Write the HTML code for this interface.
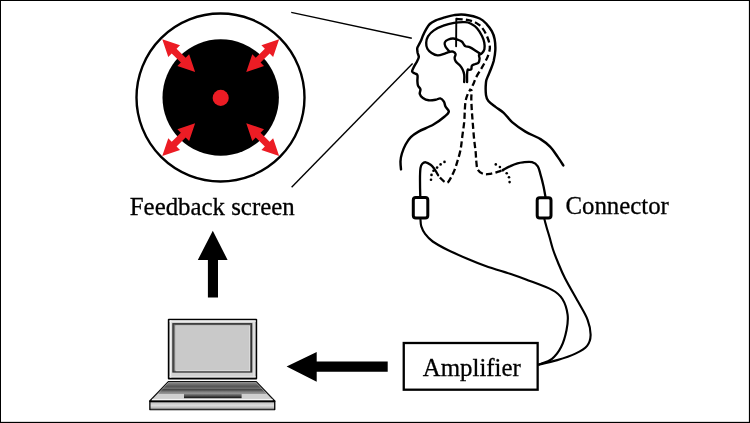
<!DOCTYPE html>
<html><head><meta charset="utf-8"><style>
html,body{margin:0;padding:0;background:#fff;}
body{width:750px;height:423px;overflow:hidden;position:relative;}
svg{position:absolute;left:0;top:0;will-change:transform;}
text{font-family:"Liberation Serif",serif;font-size:24.85px;fill:#000;stroke:#000;stroke-width:0.3px;}
</style></head><body>
<svg width="750" height="423" viewBox="0 0 750 423">
<rect x="0" y="0" width="750" height="423" fill="#fff"/><rect x="0" y="0" width="750" height="1" fill="#000"/><rect x="0" y="0" width="1" height="423" fill="#000"/><rect x="748.9" y="0" width="1.1" height="423" fill="#000"/><rect x="0" y="421.85" width="750" height="1.15" fill="#000"/>
<circle cx="220.5" cy="97.5" r="84" fill="#fff" stroke="#000" stroke-width="2.4"/>
<circle cx="220.7" cy="97.5" r="58.2" fill="#000"/>
<circle cx="220.7" cy="97.9" r="8.05" fill="#ec1c24"/>
<polygon fill="#ec1c24" points="246.26,123.16 264.01,129.17 260.55,132.64 269.67,141.76 273.13,138.29 279.14,156.04 261.39,150.03 264.86,146.57 255.74,137.45 252.27,140.91"/><polygon fill="#ec1c24" points="195.14,123.16 189.13,140.91 185.66,137.45 176.54,146.57 180.01,150.03 162.26,156.04 168.27,138.29 171.73,141.76 180.85,132.64 177.39,129.17"/><polygon fill="#ec1c24" points="195.14,72.04 177.39,66.03 180.85,62.56 171.73,53.44 168.27,56.91 162.26,39.16 180.01,45.17 176.54,48.63 185.66,57.75 189.13,54.29"/><polygon fill="#ec1c24" points="246.26,72.04 252.27,54.29 255.74,57.75 264.86,48.63 261.39,45.17 279.14,39.16 273.13,56.91 269.67,53.44 260.55,62.56 264.01,66.03"/>
<line x1="291.2" y1="12.4" x2="411.8" y2="38.2" stroke="#000" stroke-width="1.4"/>
<line x1="291.6" y1="187.2" x2="412.6" y2="63.5" stroke="#000" stroke-width="1.4"/>
<text transform="translate(129.8 215.4) scale(1 0.975)">Feedback screen</text>
<text transform="translate(565.4 214.1) scale(1 0.975)">Connector</text>
<text transform="translate(422.8 375.5) scale(1 0.975)">Amplifier</text>
<polygon points="212.8,230.7 227.6,260 218,260 218,297.4 207.9,297.4 207.9,260 197.8,260" fill="#000"/>
<polygon points="286.6,366.6 316.7,351.9 316.7,361.5 387.7,361.5 387.7,371.7 316.7,371.7 316.7,381.7" fill="#000"/>
<rect x="403.75" y="343" width="133.9" height="46.7" fill="none" stroke="#000" stroke-width="2.3"/>

<defs>
 <linearGradient id="kb" x1="0" y1="0" x2="0" y2="1">
  <stop offset="0" stop-color="#8a8a8a"/>
  <stop offset="0.12" stop-color="#7a7a7a"/>
  <stop offset="0.35" stop-color="#555"/>
  <stop offset="0.55" stop-color="#6e6e6e"/>
  <stop offset="0.66" stop-color="#3e3e3e"/>
  <stop offset="0.76" stop-color="#6a6a6a"/>
  <stop offset="0.9" stop-color="#8a8a8a"/>
  <stop offset="1" stop-color="#555"/>
 </linearGradient>
 <linearGradient id="ff" x1="0" y1="0" x2="0" y2="1">
  <stop offset="0" stop-color="#c4c4c4"/>
  <stop offset="0.45" stop-color="#dcdcdc"/>
  <stop offset="0.75" stop-color="#bdbdbd"/>
  <stop offset="1" stop-color="#5a5a5a"/>
 </linearGradient>
 <linearGradient id="tp" x1="0" y1="0" x2="0" y2="1">
  <stop offset="0" stop-color="#8a8a8a"/>
  <stop offset="0.45" stop-color="#555"/>
  <stop offset="1" stop-color="#111"/>
 </linearGradient>
</defs>
<g>
 <rect x="167.8" y="318.8" width="89.4" height="60.8" rx="1" fill="#000"/>
 <rect x="169.6" y="320.3" width="86.1" height="57.3" fill="#d2d2d2"/>
 <rect x="169.6" y="320.4" width="86.1" height="1.4" fill="#f2f2f2"/>
 <rect x="169.7" y="320.4" width="1.6" height="57.2" fill="#f2f2f2"/>
 <rect x="169.6" y="376.3" width="86.1" height="1" fill="#e6e6e6"/>
 <rect x="253.4" y="321" width="1.2" height="56" fill="#e6e6e6"/>
 <rect x="172.3" y="323.1" width="80" height="49.5" fill="#2e2e2e"/>
 <rect x="173.5" y="324.2" width="77.6" height="47.3" fill="#5e5e5e"/>
 <rect x="174.5" y="325" width="75.6" height="45.8" fill="#999"/>
 <rect x="175.6" y="325.6" width="74.4" height="45.6" fill="#e6e6e6"/>
 <rect x="175.6" y="325.6" width="73.8" height="44.9" fill="#c9c9c9"/>
 <polygon points="168.3,381.6 256.3,381.6 274.8,401 149.7,401" fill="#d0d0d0" stroke="#111" stroke-width="1.2" stroke-linejoin="round"/>
 <polygon points="168.9,382.3 255.6,382.3 266.3,393.6 158.3,393.6" fill="url(#kb)"/>
 <rect x="184" y="393.6" width="57.6" height="4.6" fill="url(#tp)"/>
 <rect x="152" y="398.9" width="120.5" height="1.5" fill="#f4f4f4"/>
 <rect x="149.2" y="400.6" width="126.2" height="9.6" rx="0.6" fill="#000"/>
 <rect x="150.5" y="402.3" width="123.6" height="7.2" fill="url(#ff)"/>
</g>

<g fill="none" stroke="#000" stroke-linecap="round" stroke-linejoin="round">
<path d="M401.0 169.4 C400.9 168.1 400.4 164.1 400.5 161.4 C400.6 158.8 401.0 156.3 401.9 153.5 C402.8 150.7 404.1 147.2 405.6 144.5 C407.1 141.8 408.7 139.3 410.8 137.2 C412.9 135.0 414.8 133.7 418.5 131.6 C422.2 129.5 428.7 127.3 433.1 124.8 C437.5 122.3 442.1 118.7 444.7 116.5 C447.3 114.3 448.7 113.2 448.8 111.6 C448.9 109.9 446.3 108.3 445.5 106.6 C444.7 104.9 444.8 103.0 443.9 101.6 C443.0 100.2 441.7 98.7 440.3 98.4 C438.9 98.1 437.6 99.5 435.7 99.8 C433.8 100.1 430.7 100.6 428.6 100.3 C426.5 100.0 424.4 99.0 422.9 98.0 C421.4 97.0 420.2 95.5 419.8 94.0 C419.4 92.5 420.7 90.7 420.4 89.3 C420.1 87.9 418.5 87.1 418.0 85.7 C417.5 84.3 417.5 82.8 417.4 81.0 C417.3 79.2 417.9 76.4 417.4 75.1 C416.9 73.8 415.4 73.9 414.5 73.3 C413.6 72.7 412.2 72.5 412.1 71.5 C412.0 70.5 412.8 69.2 413.6 67.5 C414.4 65.8 416.2 63.0 417.1 61.2 C418.0 59.5 418.7 58.4 418.8 57.0 C418.9 55.6 417.9 54.2 417.6 52.7 C417.4 51.2 417.0 49.4 417.3 48.0 C417.6 46.6 418.5 45.5 419.2 44.2 C419.9 42.9 420.7 41.4 421.3 40.0 C421.9 38.6 422.2 37.4 423.0 35.6 C423.8 33.8 425.1 31.1 426.2 29.2 C427.3 27.3 428.2 25.5 429.8 24.0 C431.4 22.5 433.3 21.5 435.8 20.4 C438.3 19.3 441.6 18.3 444.6 17.4 C447.6 16.5 450.6 15.5 454.0 15.1 C457.4 14.7 460.7 14.2 465.0 14.8 C469.3 15.4 476.1 16.9 479.7 18.5 C483.3 20.1 484.8 22.2 486.8 24.3 C488.8 26.4 490.5 28.8 491.8 31.2 C493.1 33.6 494.0 35.8 494.6 39.0 C495.2 42.2 495.5 46.8 495.3 50.5 C495.1 54.2 494.4 57.9 493.7 61.0 C492.9 64.1 491.8 66.7 490.8 69.3 C489.8 71.9 488.6 74.3 487.8 76.4 C487.0 78.5 486.3 79.0 486.0 82.1 C485.7 85.2 485.6 91.9 486.0 95.1 C486.4 98.2 486.8 99.0 488.4 101.0 C490.0 103.0 492.9 104.9 495.5 106.9 C498.1 108.9 500.9 110.3 503.7 112.8 C506.5 115.3 508.5 119.0 512.1 122.1 C515.7 125.2 520.7 128.8 525.4 131.6 C530.1 134.4 536.4 136.6 540.5 139.1 C544.6 141.6 547.1 143.7 550.0 146.7 C552.9 149.7 555.5 153.8 557.7 156.9 C559.9 160.0 562.4 164.0 563.3 165.4" stroke-width="2.45"/>
<path d="M464.2 82.0 C464.2 80.8 464.5 76.6 464.2 74.5 C463.9 72.4 463.3 71.0 462.6 69.5 C461.9 68.0 460.9 66.6 459.8 65.3 C458.7 64.0 456.7 62.8 455.8 61.5 C454.9 60.2 454.6 59.0 454.6 57.8 C454.6 56.5 455.9 55.0 455.6 54.0 C455.3 53.0 454.0 52.0 453.0 51.6 C452.0 51.2 451.0 51.6 449.6 51.9 C448.2 52.2 446.8 53.0 444.8 53.6 C442.8 54.2 439.9 55.5 437.7 55.4 C435.5 55.3 433.3 54.1 431.6 53.0 C429.9 51.9 428.3 50.4 427.4 48.7 C426.5 47.0 426.1 44.9 426.2 42.8 C426.3 40.7 426.7 38.4 428.0 36.3 C429.3 34.2 431.3 32.2 433.9 30.4 C436.5 28.6 440.0 26.9 443.4 25.7 C446.8 24.4 450.4 23.5 454.0 22.9 C457.6 22.3 462.2 22.1 465.0 22.2 C467.8 22.3 468.5 22.5 470.5 23.5 C472.5 24.5 475.1 26.1 477.0 28.2 C478.9 30.3 480.8 33.6 482.0 36.0 C483.2 38.4 483.9 40.6 484.3 42.8 C484.7 45.0 484.8 47.5 484.4 49.2 C484.0 51.0 482.8 52.3 481.9 53.3 C481.0 54.3 479.4 54.2 479.0 55.1 C478.6 56.0 479.7 57.3 479.6 58.6 C479.5 59.9 479.1 61.9 478.4 62.8 C477.7 63.7 476.5 63.5 475.4 64.0 C474.3 64.5 472.6 64.8 471.9 65.7 C471.2 66.6 471.8 68.6 471.3 69.3 C470.8 70.0 469.5 69.9 468.9 69.9 C468.3 70.0 468.0 68.9 467.7 69.6 C467.4 70.3 467.2 71.9 467.1 74.0 C467.0 76.1 467.1 80.7 467.1 82.0" stroke-width="2.35"/>
<path d="M449.6 51.9 C448.9 51.0 446.2 48.1 445.4 46.5 C444.6 44.9 444.3 43.6 444.8 42.4 C445.3 41.2 447.0 40.1 448.4 39.5 C449.8 38.9 451.4 38.4 453.1 38.5 C454.8 38.6 457.0 39.5 458.5 40.0 C460.0 40.5 461.1 41.1 462.0 41.8 C462.9 42.5 463.1 43.5 463.7 44.2 C464.3 45.0 464.4 45.8 465.5 46.3 C466.6 46.8 468.4 46.6 470.1 47.4 C471.9 48.2 474.3 49.9 476.0 51.0 C477.7 52.1 479.8 53.5 480.5 54.0" stroke-width="2.35"/>
<line x1="456.3" y1="18.8" x2="456.1" y2="46.2" stroke-width="1.9"/>
<path d="M456.4 19.0 C457.4 19.1 460.3 19.1 462.3 19.3 C464.3 19.5 466.4 19.8 468.4 20.2 C470.3 20.6 472.1 21.0 474.0 21.8 C475.9 22.6 477.8 23.8 479.5 25.2 C481.2 26.6 482.7 28.4 484.0 30.5 C485.3 32.5 486.6 35.2 487.5 37.5 C488.4 39.8 489.1 42.0 489.5 44.0 C489.9 46.0 490.0 47.5 489.7 49.5 C489.4 51.5 488.7 54.0 487.8 56.3 C486.9 58.6 485.6 61.0 484.3 63.4 C483.0 65.8 481.5 68.1 480.1 70.5 C478.7 72.9 477.1 75.4 476.0 77.6 C474.9 79.8 474.5 81.6 473.6 83.5 C472.7 85.4 471.1 88.2 470.6 89.2" stroke-width="2.3" stroke-dasharray="6.3 3.2" stroke-linecap="butt"/>
<path d="M438.1 175.2 C438.6 175.8 440.1 177.7 441.2 178.8 C442.3 179.9 443.7 181.4 444.8 182.0 C445.9 182.6 446.8 183.1 447.9 182.3 C448.9 181.5 450.0 179.2 451.1 177.2 C452.2 175.2 453.4 172.8 454.5 170.1 C455.6 167.4 456.5 164.3 457.5 161.0 C458.5 157.7 459.7 154.1 460.5 150.0 C461.3 145.9 461.7 141.1 462.3 136.4 C462.9 131.7 463.8 126.3 464.2 122.0 C464.6 117.7 464.6 114.0 464.8 110.5 C465.0 107.0 465.1 103.8 465.6 101.0 C466.1 98.2 467.0 96.0 467.8 94.0 C468.6 92.0 470.1 90.0 470.6 89.2" stroke-width="2.3" stroke-dasharray="6.3 3.2" stroke-dashoffset="6.6" stroke-linecap="butt"/>
<path d="M502.6 170.2 C501.8 170.5 499.6 171.3 497.6 171.9 C495.6 172.5 492.9 173.5 490.5 173.8 C488.1 174.2 485.5 174.7 483.4 174.0 C481.3 173.3 479.0 171.9 477.8 169.8 C476.6 167.7 476.7 164.4 476.3 161.3 C475.9 158.2 476.0 154.9 475.6 151.3 C475.2 147.8 474.7 144.6 474.2 140.0 C473.7 135.4 473.2 128.4 472.8 123.5 C472.4 118.6 472.1 114.7 471.8 110.5 C471.6 106.3 471.3 101.8 471.3 98.6 C471.3 95.3 471.7 92.6 471.6 91.0 C471.5 89.4 470.8 89.5 470.6 89.2" stroke-width="2.3" stroke-dasharray="6.3 3.2" stroke-dashoffset="8.1" stroke-linecap="butt"/>
<path d="M438.1 175.2 C437.4 174.0 435.1 169.9 433.9 168.2 C432.6 166.5 432.0 165.8 430.6 164.8 C429.2 163.8 427.2 162.5 425.8 162.3 C424.4 162.1 423.2 162.8 422.3 163.7 C421.4 164.6 420.9 165.3 420.5 168.0 C420.1 170.7 420.0 174.7 420.0 179.6 C420.0 184.5 420.2 194.4 420.3 197.3" stroke-width="2.3"/>
<path d="M502.6 170.2 C503.9 169.5 507.9 167.2 510.4 166.1 C512.9 164.9 515.4 163.9 517.5 163.3 C519.6 162.7 520.6 162.5 523.0 162.3 C525.4 162.1 529.6 161.5 532.1 162.2 C534.6 162.9 536.4 164.2 537.8 166.3 C539.2 168.4 539.6 171.5 540.6 174.8 C541.6 178.1 542.7 182.6 543.5 186.2 C544.3 189.8 545.1 194.9 545.4 196.6" stroke-width="2.3"/>
</g><g fill="#000"><circle cx="444.5" cy="161.9" r="1.3"/><circle cx="440.6" cy="164.4" r="1.3"/><circle cx="437.1" cy="167.6" r="1.3"/><circle cx="433.5" cy="170.7" r="1.3"/><circle cx="431.5" cy="174.9" r="1.3"/><circle cx="431.0" cy="179.7" r="1.3"/><circle cx="495.8" cy="164.4" r="1.3"/><circle cx="499.9" cy="167.0" r="1.3"/><circle cx="503.1" cy="170.1" r="1.3"/><circle cx="506.7" cy="173.2" r="1.3"/><circle cx="509.0" cy="177.3" r="1.3"/><circle cx="509.6" cy="182.1" r="1.3"/></g><g fill="none" stroke="#000" stroke-linecap="round" stroke-linejoin="round">
<path d="M420.5 219.6 C420.6 220.7 420.5 223.9 421.3 226.3 C422.1 228.7 423.2 231.4 425.1 233.9 C427.0 236.4 428.9 238.8 432.7 241.5 C436.5 244.2 442.1 247.2 447.8 250.0 C453.5 252.8 460.4 255.8 466.7 258.5 C473.0 261.2 478.4 263.4 485.6 266.0 C492.8 268.6 503.3 271.6 510.0 273.8 C516.7 276.1 519.0 276.8 526.0 279.5 C533.0 282.2 545.9 286.6 552.0 289.9 C558.1 293.1 559.8 294.9 562.4 299.0 C565.0 303.1 566.9 309.4 567.6 314.6 C568.3 319.8 567.6 324.8 566.5 330.2 C565.4 335.6 563.5 342.3 561.1 347.1 C558.7 351.9 555.7 355.9 552.0 358.8 C548.3 361.7 541.2 363.6 539.0 364.6" stroke-width="2.15"/>
<path d="M544.5 219.6 C544.8 220.8 545.7 224.1 546.5 227.0 C547.3 229.9 548.4 233.2 549.5 237.0 C550.6 240.8 551.6 245.3 553.0 249.5 C554.4 253.7 555.8 257.2 557.8 262.0 C559.8 266.8 561.6 271.6 565.0 278.2 C568.4 284.8 574.2 294.7 578.0 301.6 C581.8 308.5 585.5 314.2 587.6 319.8 C589.7 325.4 590.7 330.9 590.6 335.2 C590.5 339.5 589.6 342.7 587.1 345.8 C584.6 348.9 580.4 351.2 575.4 353.6 C570.4 356.0 563.3 358.3 557.2 360.1 C551.1 361.9 542.0 363.9 539.0 364.6" stroke-width="2.15"/>
</g>
<rect x="413.3" y="197.6" width="14.5" height="20.4" rx="2.5" fill="#fff" stroke="#000" stroke-width="3"/>
<rect x="537.2" y="197.7" width="13.8" height="20.3" rx="2.5" fill="#fff" stroke="#000" stroke-width="3"/>
</svg>
</body></html>
